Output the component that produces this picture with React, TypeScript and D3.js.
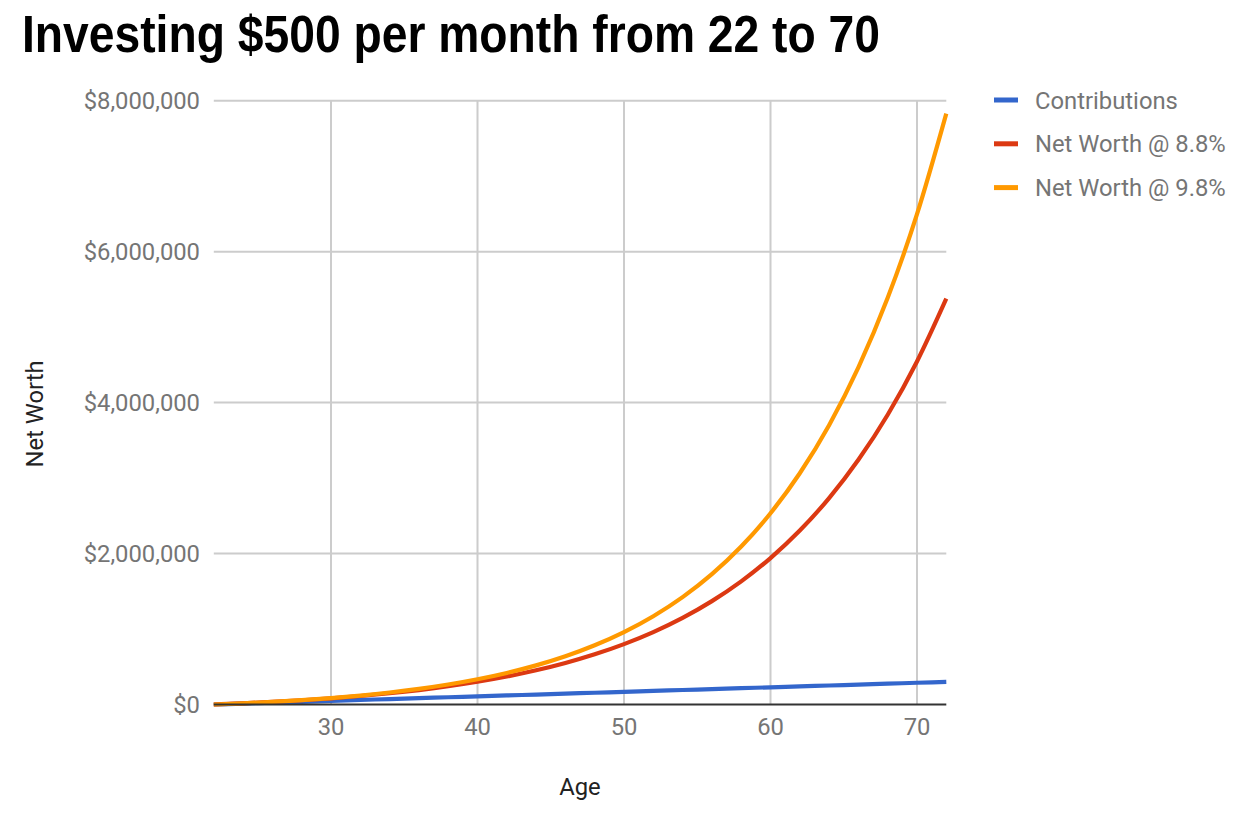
import React from "react";
import * as d3 from "d3";

const ages = [22, 24, 26, 28, 30, 32, 34, 36, 38, 40, 42, 44, 46, 48, 50, 52, 54, 56, 58, 60, 62, 64, 66, 68, 70, 72];
const contributions = [0, 12000, 24000, 36000, 48000, 60000, 72000, 84000, 96000, 108000, 120000, 132000, 144000, 156000, 168000, 180000, 192000, 204000, 216000, 228000, 240000, 252000, 264000, 276000, 288000, 300000];
const netWorth88 = [0, 15800, 34400, 56400, 82300, 112900, 148900, 191500, 241700, 300900, 370700, 453100, 550300, 664900, 800100, 959600, 1147800, 1369800, 1631600, 1940500, 2304800, 2734600, 3241800, 3839500, 4545300, 5377700];
const netWorth98 = [0, 15900, 35000, 57900, 85500, 118800, 158700, 206800, 264600, 334100, 417700, 518200, 639200, 784700, 959600, 1170000, 1423100, 1727500, 2093600, 2533900, 3063500, 3700500, 4466200, 5387800, 6495800, 7829200];
const seriesNames = ["Contributions", "Net Worth @ 8.8%", "Net Worth @ 9.8%"];
const seriesColors = ["#3366cc", "#dc3912", "#ff9900"];
const xTicks = [30, 40, 50, 60, 70];
const yTicks = [0, 2000000, 4000000, 6000000, 8000000];

export default function App() {
  const W = 1242, H = 820;
  const left = 213.8, right = 946.3, top = 100.7, bottom = 704.5;
  const x = d3.scaleLinear().domain([22, 72]).range([left, right]);
  const y = d3.scaleLinear().domain([0, 8000000]).range([bottom, top]);
  const fmt = d3.format("$,");
  const font = "Roboto, 'Noto Sans', Arial, sans-serif";
  const fs = 23.8;
  const series = [contributions, netWorth88, netWorth98];
  const line = d3
    .line<number>()
    .x((_, i) => x(ages[i]))
    .y((d) => y(d))
    .curve(d3.curveMonotoneX);

  return (
    <svg
      width={W}
      height={H}
      style={{ position: "absolute", left: 0, top: 0, display: "block", background: "#fff" }}
    >
      <text
        x={22}
        y={52}
        fontFamily="'Liberation Sans', Arial, sans-serif"
        fontWeight="bold"
        fontSize={51}
        textLength={858}
        lengthAdjust="spacingAndGlyphs"
        fill="#000"
      >
        Investing $500 per month from 22 to 70
      </text>

      {yTicks.map((t) => (
        <g key={"y" + t}>
          {t !== 0 && (
            <line x1={left} x2={right} y1={y(t)} y2={y(t)} stroke="#cccccc" strokeWidth={2} />
          )}
          <text
            x={200}
            y={y(t) + 8.5}
            textAnchor="end"
            fontFamily={font}
            fontSize={fs}
            fill="#757575"
          >
            {fmt(t)}
          </text>
        </g>
      ))}
      {xTicks.map((t) => (
        <g key={"x" + t}>
          <line x1={x(t)} x2={x(t)} y1={top} y2={bottom} stroke="#cccccc" strokeWidth={2} />
          <text x={x(t)} y={735} textAnchor="middle" fontFamily={font} fontSize={fs} fill="#757575">
            {t}
          </text>
        </g>
      ))}

      {series.map((s, i) => (
        <path
          key={"s" + i}
          d={line(s) || ""}
          fill="none"
          stroke={seriesColors[i]}
          strokeWidth={4.2}
          strokeLinejoin="round"
        />
      ))}

      <line x1={left} x2={right} y1={bottom} y2={bottom} stroke="#333333" strokeWidth={2} />

      <text x={580} y={795} textAnchor="middle" fontFamily={font} fontSize={fs} fill="#222">
        Age
      </text>
      <text
        transform={`translate(43, 414) rotate(-90)`}
        textAnchor="middle"
        fontFamily={font}
        fontSize={fs}
        fill="#222"
      >
        Net Worth
      </text>

      {seriesNames.map((n, i) => (
        <g key={"l" + i} transform={`translate(994, ${100 + i * 43.8})`}>
          <rect x={0} y={-2.5} width={24} height={5} fill={seriesColors[i]} />
          <text x={41} y={8.5} fontFamily={font} fontSize={fs} fill="#757575">
            {n}
          </text>
        </g>
      ))}
    </svg>
  );
}
